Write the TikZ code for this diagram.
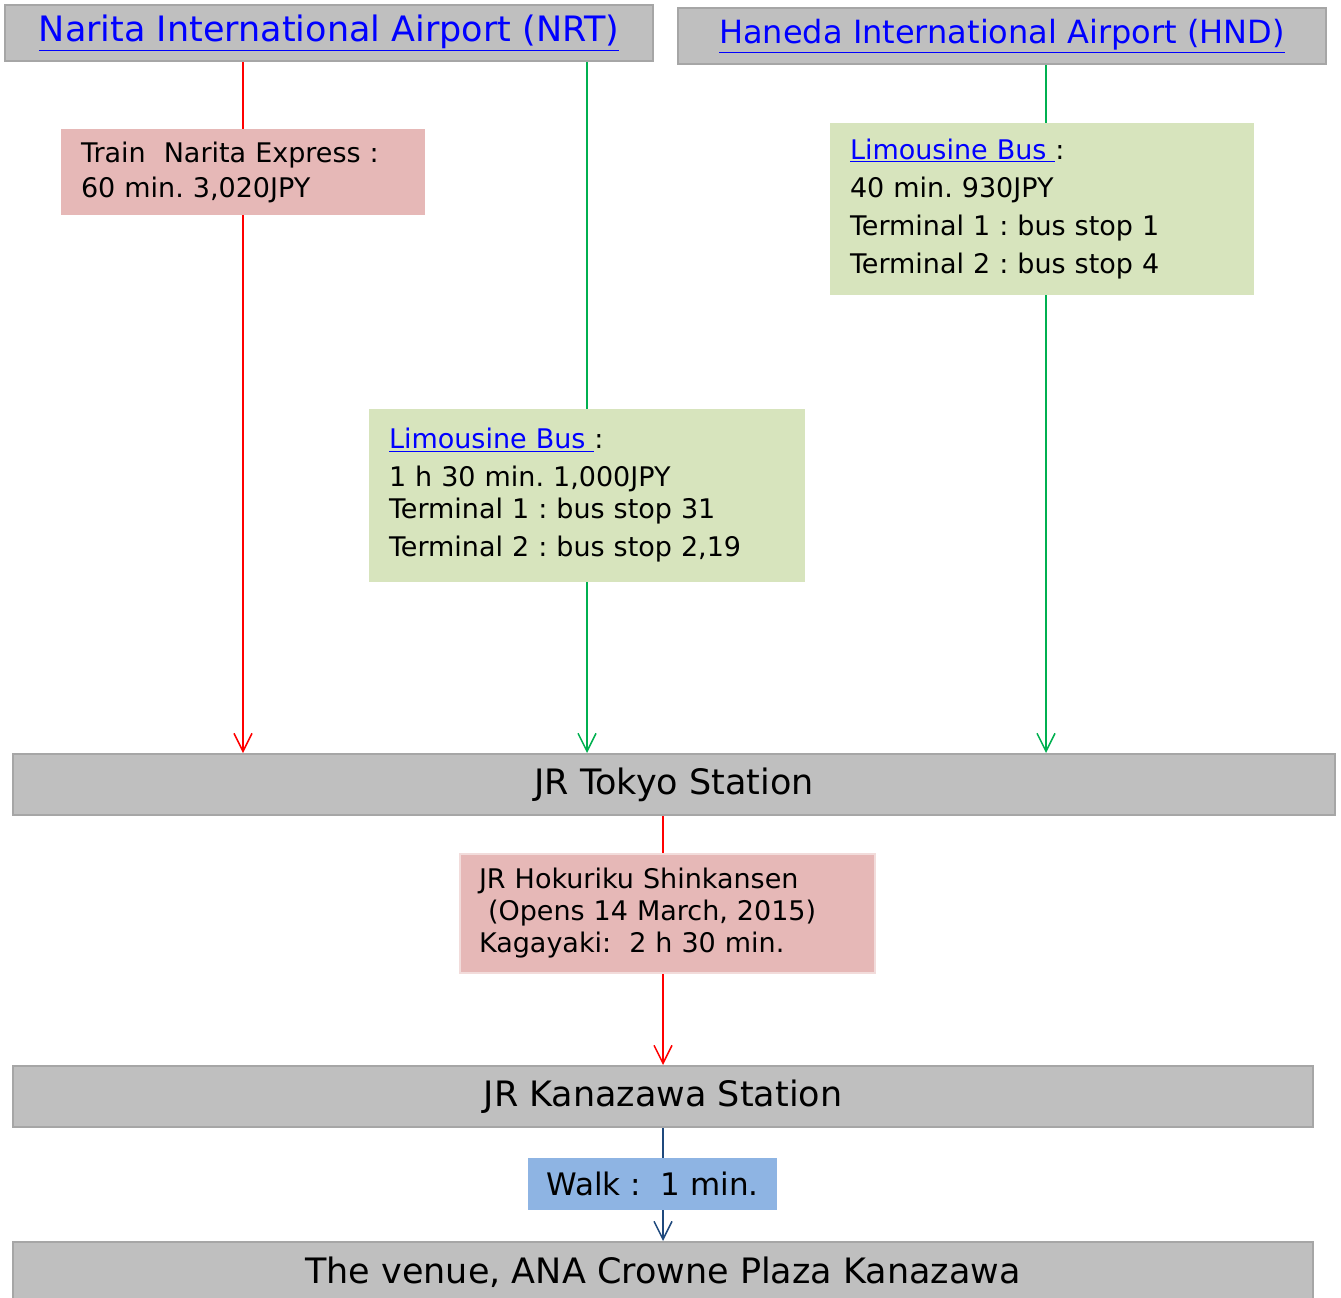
\documentclass[tikz,border=0pt]{standalone}
\usepackage{fontspec}
\setmainfont{DejaVu Sans}
\usetikzlibrary{arrows.meta}
\frenchspacing
\definecolor{boxgray}{HTML}{BFBFBF}
\definecolor{graybd}{HTML}{A6A6A6}
\definecolor{pinkfill}{HTML}{E6B8B7}
\definecolor{pinkbd}{HTML}{F2DCDB}
\definecolor{greenfill}{HTML}{D7E4BD}
\definecolor{bluefill}{HTML}{8EB4E3}
\definecolor{redline}{HTML}{FF0000}
\definecolor{greenline}{HTML}{00B050}
\definecolor{blueline}{HTML}{1F497D}
\definecolor{linkblue}{HTML}{0000FF}
\newcommand{\lnk}[1]{\textcolor{linkblue}{\underline{#1}}}
\pgfdeclarelayer{background}
\pgfsetlayers{background,main}
\begin{document}
\begin{tikzpicture}[x=1pt,y=-1pt,
  station/.style={draw=graybd, line width=2pt, fill=boxgray, inner sep=0pt, align=center},
  bigfont/.style={font=\fontsize{35}{42}\selectfont},
  info/.style={inner xsep=20pt, inner ysep=0pt, align=left, font=\fontsize{27}{35}\selectfont},
  conn/.style={line width=1.5pt},
  tip/.style={-{Straight Barb[length=18pt,width=18pt,line width=1.5pt]}}
]
\useasboundingbox (0,0) rectangle (1341,1298);

% airports
\node[station, bigfont, minimum width=648pt, minimum height=56pt] (nrt) at (329,33)
  {\lnk{Narita International Airport (NRT)}};
\node[station, font=\fontsize{32}{38}\selectfont, minimum width=648pt, minimum height=56pt] (hnd) at (1002,36)
  {\lnk{Haneda International Airport (HND)}};

% info boxes
\node[info, fill=pinkfill, text width=324pt, minimum width=364pt, minimum height=86pt] (nex) at (243,172)
  {Train\ \ Narita Express :\\60 min. 3,020JPY};
\node[info, fill=greenfill, text width=396pt, minimum width=436pt, minimum height=173pt] (nbus) at (587,495.5)
  {\lnk{Limousine Bus\ }:\\[3pt]1 h 30 min. 1,000JPY\\[-3pt]Terminal 1 : bus stop 31\\[3pt]Terminal 2 : bus stop 2,19};
\node[info, fill=greenfill, text width=384pt, minimum width=424pt, minimum height=172pt] (hbus) at (1042,209)
  {\lnk{Limousine Bus\ }:\\[3pt]40 min. 930JPY\\[3pt]Terminal 1 : bus stop 1\\[3pt]Terminal 2 : bus stop 4};

% stations
\node[station, bigfont, minimum width=1322pt, minimum height=61pt] (tokyo) at (674,784.5) {JR Tokyo Station};
\node[info, draw=pinkbd, line width=2pt, fill=pinkfill, inner xsep=19pt, text width=377pt, minimum width=415pt, minimum height=119pt,
  font=\fontsize{27}{32}\selectfont] (shin) at (667.5,913.5)
  {JR Hokuriku Shinkansen\\\hspace*{9pt}(Opens 14 March, 2015)\\Kagayaki:\ \ 2 h 30 min.};
\node[station, bigfont, minimum width=1300pt, minimum height=61pt] (kana) at (663,1096.5) {JR Kanazawa Station};
\node[inner sep=0pt, fill=bluefill, minimum width=249pt, minimum height=52pt, font=\fontsize{31}{36}\selectfont] (walk) at (652.5,1184) {Walk :\ \ 1 min.};
\node[station, bigfont, minimum width=1300pt, minimum height=60pt] (venue) at (663,1272) {The venue, ANA Crowne Plaza Kanazawa};

% connectors
\begin{pgfonlayer}{background}
\draw[conn, redline, tip] (nex.north |- nrt.south) -- (nex.south |- tokyo.north);
\draw[conn, greenline, tip] (nbus.north |- nrt.south) -- (nbus.south |- tokyo.north);
\draw[conn, greenline, tip] ([xshift=4pt]hbus.north |- hnd.south) -- ([xshift=4pt]hbus.south |- tokyo.north);
\draw[conn, redline, tip] (kana.north |- tokyo.south) -- (kana.north);
\draw[conn, blueline, tip] (kana.south) -- (venue.north);
\end{pgfonlayer}
\end{tikzpicture}
\end{document}
